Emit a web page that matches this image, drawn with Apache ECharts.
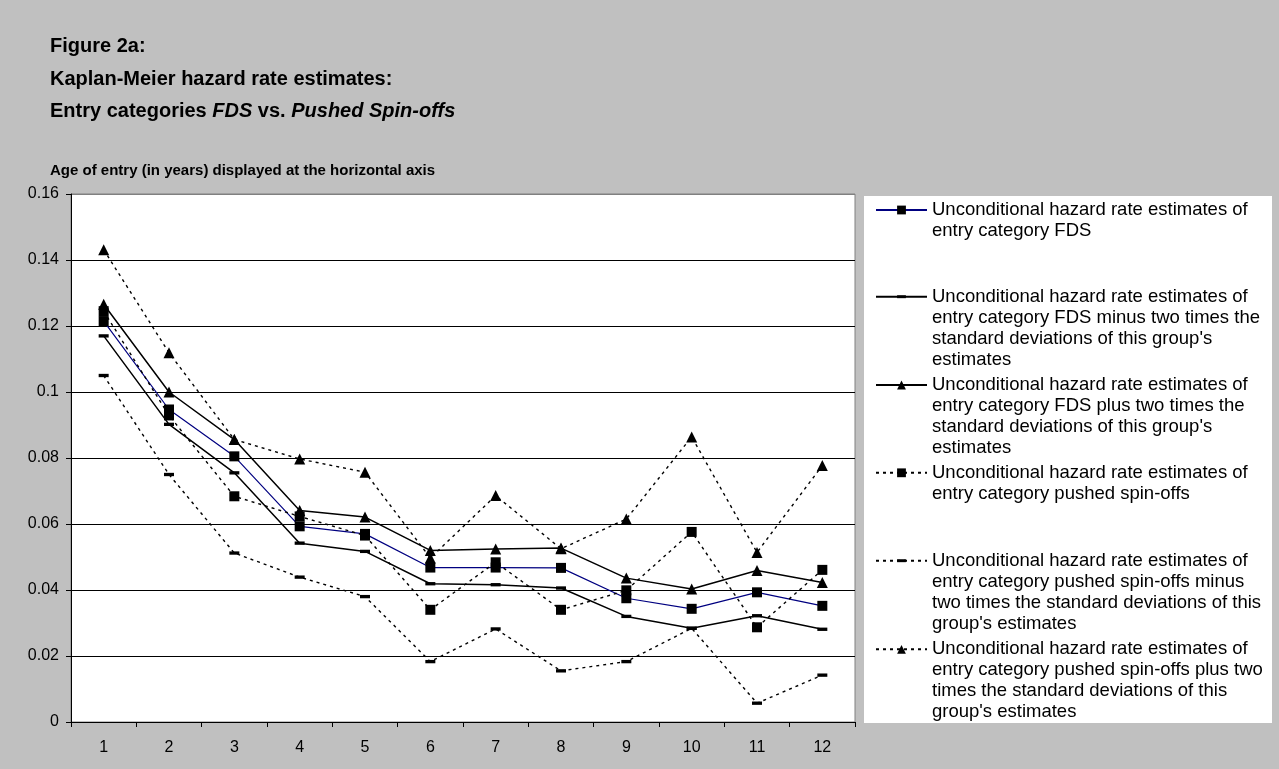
<!DOCTYPE html>
<html><head><meta charset="utf-8">
<script src="https://cdn.jsdelivr.net/npm/echarts@6/dist/echarts.min.js"></script>
<style>html,body{margin:0;padding:0;background:#c0c0c0}#c{width:1279px;height:769px}</style>
</head><body><div id="c"></div>
<script>
// ---- data ----
const categories = ['1','2','3','4','5','6','7','8','9','10','11','12'];
const fds        = [0.1215, 0.0947, 0.0805, 0.0593, 0.0570, 0.0468, 0.0468, 0.0467, 0.0375, 0.0343, 0.0393, 0.0352];
const fdsMinus   = [0.1170, 0.0902, 0.0755, 0.0542, 0.0517, 0.0419, 0.0416, 0.0406, 0.0320, 0.0284, 0.0322, 0.0281];
const fdsPlus    = [0.1266, 0.1000, 0.0856, 0.0641, 0.0621, 0.0520, 0.0524, 0.0527, 0.0436, 0.0403, 0.0459, 0.0423];
const pushed     = [0.1245, 0.0929, 0.0684, 0.0623, 0.0565, 0.0340, 0.0484, 0.0340, 0.0399, 0.0576, 0.0287, 0.0461];
const pushedMinus= [0.1050, 0.0750, 0.0512, 0.0439, 0.0380, 0.0183, 0.0282, 0.0155, 0.0183, 0.0284, 0.0057, 0.0142];
const pushedPlus = [0.1431, 0.1119, 0.0856, 0.0797, 0.0757, 0.0497, 0.0686, 0.0525, 0.0615, 0.0864, 0.0514, 0.0777];
const seriesNames = [
  "Unconditional hazard rate estimates of\nentry category FDS",
  "Unconditional hazard rate estimates of\nentry category FDS minus two times the\nstandard deviations of this group's\nestimates",
  "Unconditional hazard rate estimates of\nentry category FDS plus two times the\nstandard deviations of this group's\nestimates",
  "Unconditional hazard rate estimates of\nentry category pushed spin-offs",
  "Unconditional hazard rate estimates of\nentry category pushed spin-offs minus\ntwo times the standard deviations of this\ngroup's estimates",
  "Unconditional hazard rate estimates of\nentry category pushed spin-offs plus two\ntimes the standard deviations of this\ngroup's estimates"
];
const yTicks = {min: 0, max: 0.16, interval: 0.02};

// ---- styles ----
const FONT = '"Liberation Sans", Arial, Helvetica, sans-serif';
const dashSymbol = 'path://M4.5,0L4.5,0M4.5,9L4.5,9M0,3H9V6H0Z';
const dotted = [3, 4];
const seriesData = [fds, fdsMinus, fdsPlus, pushed, pushedMinus, pushedPlus];
const styles = [
  {symbol: 'rect', size: 10, line: '#000080', type: 'solid', w: 1.2},
  {symbol: dashSymbol, size: 10, line: '#000', type: 'solid', w: 1.5},
  {symbol: 'triangle', size: 11, line: '#000', type: 'solid', w: 1.5},
  {symbol: 'rect', size: 10, line: '#000', type: dotted, w: 1.4},
  {symbol: dashSymbol, size: 10, line: '#000', type: dotted, w: 1.4},
  {symbol: 'triangle', size: 11, line: '#000', type: dotted, w: 1.4}
];
const iconCenters = [210, 296.7, 385, 472.8, 560.7, 649.3];
const LH = 21;

const chart = echarts.init(document.getElementById('c'), null, {renderer: 'canvas'});
const option = {
  animation: false,
  backgroundColor: '#c0c0c0',
  title: [{
    left: 50, top: 30.6, padding: 0,
    text: '{b|Figure 2a:}\n{b|Kaplan-Meier hazard rate estimates:}\n{b|Entry categories }{bi|FDS}{b| vs. }{bi|Pushed Spin-offs}',
    textStyle: {
      rich: {
        b: {fontFamily: FONT, fontSize: 20, fontWeight: 'bold', lineHeight: 32.3, color: '#000'},
        bi: {fontFamily: FONT, fontSize: 20, fontWeight: 'bold', fontStyle: 'italic', lineHeight: 32.3, color: '#000'}
      }
    }
  }, {
    left: 50, top: 162.3, padding: 0,
    text: 'Age of entry (in years) displayed at the horizontal axis',
    textStyle: {fontFamily: FONT, fontSize: 15, fontWeight: 'bold', lineHeight: 18, color: '#000'}
  }],
  graphic: [{
    type: 'rect', z: -1, silent: true,
    shape: {x: 864, y: 196, width: 408, height: 527},
    style: {fill: '#fff'}
  }],
  legend: seriesNames.map((name, i) => {
    const n = name.split('\n').length;
    const outer = (2 * n - 1) * LH;
    return {
      data: [name], orient: 'vertical', left: 875, top: iconCenters[i] - outer / 2,
      padding: 0, itemWidth: 51, itemHeight: 11, itemGap: 0, selectedMode: false,
      formatter: (nm) => '\n'.repeat(n - 1) + nm,
      textStyle: {fontFamily: FONT, fontSize: 18.5, lineHeight: LH, color: '#000'}
    };
  }),
  grid: {
    left: 71, right: 424, top: 194, bottom: 47,
    show: true, backgroundColor: '#fff', borderColor: '#808080', borderWidth: 1,
    outerBoundsMode: 'none', containLabel: false
  },
  xAxis: {
    type: 'category', data: categories, boundaryGap: true,
    axisLine: {lineStyle: {color: '#000', width: 1}},
    axisTick: {show: true, length: 5, lineStyle: {color: '#000'}},
    axisLabel: {fontFamily: FONT, fontSize: 16, color: '#000', margin: 18},
    splitLine: {show: false}
  },
  yAxis: {
    type: 'value', min: yTicks.min, max: yTicks.max, interval: yTicks.interval,
    axisLine: {show: true, lineStyle: {color: '#000', width: 1}},
    axisTick: {show: true, length: 5, lineStyle: {color: '#000'}},
    axisLabel: {fontFamily: FONT, fontSize: 16, color: '#000', margin: 12},
    splitLine: {show: true, lineStyle: {color: ['#000','#000','#000','#000','#000','#000','#000','#000','#808080'], width: 1}}
  },
  series: seriesData.map((d, i) => ({
    name: seriesNames[i], type: 'line', data: d,
    symbol: styles[i].symbol, symbolSize: styles[i].size, showAllSymbol: true,
    itemStyle: {color: '#000'},
    lineStyle: {color: styles[i].line, width: styles[i].w, type: styles[i].type},
    emphasis: {disabled: true}
  }))
};
chart.setOption(option);
</script></body></html>
